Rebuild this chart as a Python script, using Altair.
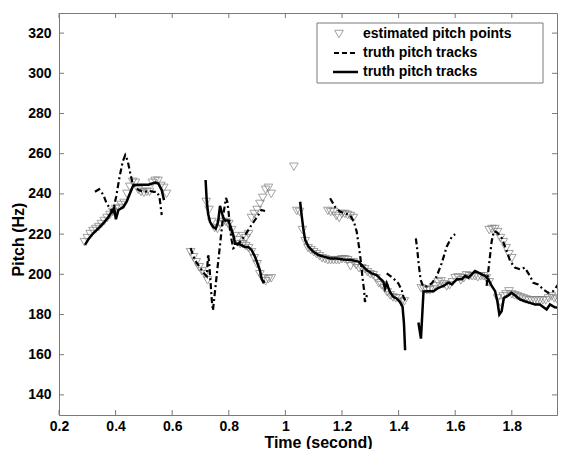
import altair as alt
import pandas as pd

FONT = "Liberation Sans"
GRAY = "#7a7a7a"

X_TICKS = [0.2, 0.4, 0.6, 0.8, 1.0, 1.2, 1.4, 1.6, 1.8]
Y_TICKS = [140, 160, 180, 200, 220, 240, 260, 280, 300, 320]
LEGEND_LABELS = ["estimated pitch points", "truth pitch tracks", "truth pitch tracks"]

# ---- solid truth tracks ----
SOLID_A_T = [0.292, 0.304, 0.321, 0.339, 0.357, 0.374, 0.386, 0.395, 0.401, 0.410, 0.427, 0.439, 0.451, 0.463, 0.487, 0.516, 0.540, 0.551, 0.563, 0.571]
SOLID_A_F = [214.6, 217.5, 220.4, 222.9, 225.4, 228.4, 231.2, 233.0, 227.4, 232.0, 233.3, 236.1, 240.3, 244.4, 244.6, 244.6, 245.7, 245.2, 241.9, 236.9]
SOLID_B_T = [0.718, 0.722, 0.727, 0.734, 0.745, 0.754, 0.762, 0.769, 0.775, 0.780, 0.786, 0.798, 0.807, 0.816, 0.822, 0.834, 0.846, 0.857, 0.869, 0.881, 0.893, 0.904, 0.910, 0.916, 0.922, 0.928]
SOLID_B_F = [246.9, 236.7, 230.0, 226.0, 223.5, 222.7, 226.0, 234.0, 231.0, 228.4, 226.8, 226.8, 223.5, 219.4, 215.2, 215.2, 214.4, 213.6, 213.6, 212.0, 208.6, 204.4, 202.0, 197.8, 196.1, 196.6]
SOLID_C_T = [1.052, 1.058, 1.064, 1.070, 1.082, 1.099, 1.117, 1.135, 1.158, 1.182, 1.205, 1.234, 1.258, 1.270, 1.287, 1.305, 1.322, 1.334, 1.346, 1.352, 1.358, 1.369, 1.381, 1.393, 1.405, 1.414, 1.419, 1.423]
SOLID_C_F = [236.1, 228.7, 222.0, 217.0, 213.7, 211.2, 209.6, 208.8, 207.9, 207.9, 207.4, 207.1, 206.3, 204.6, 202.1, 200.5, 199.6, 198.0, 196.3, 193.0, 195.5, 191.3, 188.8, 188.0, 186.3, 183.8, 175.5, 162.2]
SOLID_D_T = [1.470, 1.479, 1.488, 1.505, 1.523, 1.541, 1.558, 1.576, 1.588, 1.606, 1.623, 1.635, 1.647, 1.658, 1.670, 1.682, 1.694, 1.706, 1.717, 1.729, 1.741, 1.749, 1.756, 1.764, 1.772, 1.784, 1.799, 1.811, 1.829, 1.846, 1.864, 1.882, 1.899, 1.923, 1.935, 1.952, 1.970, 1.989]
SOLID_D_F = [176.0, 168.0, 191.5, 191.6, 191.6, 193.3, 194.2, 195.8, 195.0, 197.5, 197.5, 199.2, 198.3, 200.0, 201.6, 200.8, 200.0, 199.2, 197.5, 194.2, 191.6, 186.6, 180.0, 181.6, 188.3, 189.1, 190.8, 189.6, 187.5, 186.6, 185.8, 185.0, 185.0, 182.5, 185.0, 183.6, 183.3, 180.8]

# ---- dashed truth tracks ----
DASH_A_T = [0.327, 0.342, 0.357, 0.368, 0.380, 0.390, 0.402, 0.414, 0.425, 0.434, 0.442, 0.452, 0.460, 0.480, 0.500, 0.520, 0.535, 0.545, 0.555, 0.563]
DASH_A_F = [241.1, 242.3, 239.5, 235.3, 232.8, 231.0, 238.6, 248.5, 256.0, 259.3, 256.8, 250.2, 245.2, 242.0, 241.0, 241.5, 241.0, 241.1, 238.6, 229.5]
DASH_B_T = [0.665, 0.680, 0.700, 0.715, 0.722, 0.727, 0.731, 0.736, 0.740, 0.744, 0.750, 0.760, 0.770, 0.780, 0.790, 0.795, 0.800, 0.805, 0.810, 0.816, 0.825, 0.840, 0.860, 0.880, 0.900, 0.915, 0.928]
DASH_B_F = [213.0, 207.0, 203.0, 200.0, 199.0, 210.0, 205.0, 195.0, 187.0, 182.0, 190.0, 203.0, 216.0, 229.0, 238.0, 236.0, 230.0, 222.0, 217.0, 213.0, 214.0, 216.0, 220.0, 224.5, 228.5, 232.0, 231.5]
DASH_C_T = [1.158, 1.175, 1.193, 1.211, 1.228, 1.242, 1.252, 1.260, 1.266, 1.272, 1.278, 1.281, 1.290]
DASH_C_F = [237.8, 233.6, 231.2, 230.3, 229.5, 226.2, 221.2, 213.7, 207.1, 198.8, 192.2, 186.3, 190.5]
DASH_C2_T = [1.358, 1.381, 1.399, 1.411, 1.417, 1.425]
DASH_C2_F = [200.5, 198.0, 195.5, 192.2, 188.8, 186.5]
DASH_D_T = [1.461, 1.466, 1.472, 1.478, 1.487, 1.500, 1.517, 1.534, 1.552, 1.570, 1.588, 1.600]
DASH_D_F = [217.9, 212.1, 203.8, 197.2, 193.9, 194.0, 195.5, 198.8, 205.4, 213.7, 218.7, 220.0]
DASH_D2_T = [1.711, 1.721, 1.729, 1.737, 1.749, 1.764, 1.782, 1.794, 1.811, 1.829, 1.846, 1.864, 1.876, 1.893, 1.911, 1.929, 1.946, 1.964, 1.976, 1.988]
DASH_D2_F = [194.2, 206.6, 216.5, 221.5, 220.7, 218.2, 211.6, 206.6, 203.3, 202.5, 203.3, 199.2, 195.8, 195.0, 192.5, 190.8, 191.6, 195.0, 200.0, 208.3]

# ---- estimated pitch points ----
EST_T = [0.29, 0.30, 0.31, 0.32, 0.33, 0.34, 0.35, 0.36, 0.37, 0.38, 0.39, 0.40, 0.41, 0.42, 0.43, 0.44, 0.45, 0.46, 0.47, 0.48, 0.49, 0.50, 0.51, 0.52, 0.53, 0.54, 0.55, 0.56, 0.57, 0.58,
         0.665, 0.675, 0.685, 0.695, 0.705, 0.715, 0.725,
         0.72, 0.73, 0.74, 0.75, 0.76, 0.77, 0.78, 0.79, 0.80, 0.81, 0.82, 0.83, 0.84, 0.85, 0.86, 0.87, 0.88, 0.89, 0.90, 0.91, 0.92, 0.93, 0.94, 0.95,
         0.85, 0.86, 0.87, 0.88, 0.89, 0.90, 0.91, 0.92, 0.93, 0.94, 0.95,
         1.03,
         1.04, 1.05, 1.06, 1.07, 1.08, 1.09, 1.10, 1.11, 1.12, 1.13, 1.14, 1.15, 1.16, 1.17, 1.18, 1.19, 1.20, 1.21, 1.22, 1.23, 1.24, 1.25, 1.26, 1.27, 1.28, 1.29, 1.30, 1.31, 1.32, 1.33, 1.34, 1.35, 1.36, 1.37, 1.38, 1.39, 1.40, 1.41, 1.42,
         1.15, 1.16, 1.17, 1.18, 1.19, 1.20, 1.21, 1.22, 1.23, 1.24,
         1.48, 1.49, 1.50, 1.51, 1.52, 1.53, 1.54, 1.55, 1.56, 1.57, 1.58, 1.59, 1.60, 1.61, 1.62, 1.63, 1.64, 1.65, 1.66, 1.67, 1.68, 1.69, 1.70, 1.71, 1.72,
         1.75, 1.76, 1.77, 1.78, 1.79, 1.80, 1.81, 1.82, 1.83, 1.84, 1.85, 1.86, 1.87, 1.88, 1.89, 1.90, 1.91, 1.92, 1.93, 1.94, 1.95, 1.96, 1.97, 1.98,
         1.72, 1.73, 1.74, 1.75, 1.76, 1.77, 1.78, 1.79, 1.80]
EST_F = [216, 218, 220, 221.5, 222.5, 223.5, 225, 226.5, 228, 229.5, 231, 232.5, 233, 234.5, 235.5, 240, 243.5, 246, 245.5, 242, 241, 240.5, 241, 241, 245.5, 246.5, 246.5, 244, 243, 240,
         211, 208.5, 206, 203.5, 201.5, 200, 197,
         236, 232, 226, 223, 222.5, 225, 226, 226, 225, 222, 219, 217, 215, 215, 214, 213, 211, 208, 205, 200, 198, 196.5, 197.5, 198,
         219, 218, 220, 228, 230, 232, 235, 238, 242, 243, 240,
         253.5,
         231.5, 231, 222, 216.5, 213, 212, 211, 210, 209, 208, 207.5, 207, 207, 207, 207, 207, 207.5, 207.5, 207, 204, 206, 204.5, 203, 203, 202.5, 201, 200, 199.5, 198, 195.5, 194.5, 193, 191, 189.5, 188.5, 188, 188, 186, 186.5,
         231.5, 231, 231, 229, 228, 230, 230, 229.5, 229, 228,
         193, 192.5, 192, 192, 192.5, 194, 196, 196.5, 195, 194, 194.5, 196, 198, 198.5, 197, 198, 199.5, 199, 199, 199, 198.5, 199, 199, 198, 196,
         188, 186, 189, 190, 191.5, 190, 189.5, 189, 188.5, 188, 187.5, 187, 187, 187, 187, 187, 187, 187, 188, 189, 188, 187.5, 187, 186.5,
         222, 222.5, 222.5, 221, 218, 216, 213, 210, 208]


def frame(segments):
    rows = []
    for s, (ts, fs) in enumerate(segments):
        for i, (t, f) in enumerate(zip(ts, fs)):
            rows.append({"t": t, "f": f, "seg": s, "i": i})
    return pd.DataFrame(rows)


solid_df = frame([(SOLID_A_T, SOLID_A_F), (SOLID_B_T, SOLID_B_F), (SOLID_C_T, SOLID_C_F), (SOLID_D_T, SOLID_D_F)])
dash_df = frame([(DASH_A_T, DASH_A_F), (DASH_B_T, DASH_B_F), (DASH_C_T, DASH_C_F), (DASH_C2_T, DASH_C2_F),
                 (DASH_D_T, DASH_D_F), (DASH_D2_T, DASH_D2_F)])
est_df = pd.DataFrame({"t": EST_T, "f": EST_F})

W, H = 498, 402
xs = alt.Scale(domain=[0.2, 0.2 + W / 283.0], nice=False, zero=False)
ys = alt.Scale(domain=[130, 330], nice=False, zero=False)

x_axis = alt.Axis(values=X_TICKS, format="~g", ticks=False, grid=False, domainColor=GRAY,
                  labelFont=FONT, labelFontSize=14, labelFontWeight="bold", labelColor="black",
                  labelPadding=4, labelFlush=False,
                  title="Time (second)", titleFont=FONT, titleFontSize=16, titleFontWeight="bold",
                  titleColor="black", titleX=W / 2 + 10, titleY=19, titleBaseline="top")
y_axis = alt.Axis(values=Y_TICKS, ticks=False, grid=False, domainColor=GRAY,
                  labelFont=FONT, labelFontSize=14, labelFontWeight="bold", labelColor="black",
                  labelPadding=8, labelFlush=False,
                  title="Pitch (Hz)", titleFont=FONT, titleFontSize=16, titleFontWeight="bold",
                  titleColor="black", titleX=-33, titleY=226)

X_ENC = alt.X("t:Q", scale=xs, axis=x_axis)
Y_ENC = alt.Y("f:Q", scale=ys, axis=y_axis)

est = alt.Chart(est_df).mark_point(shape="triangle-down", size=75, color=GRAY, filled=False,
                                   strokeWidth=1, clip=True).encode(x=X_ENC, y=Y_ENC)
dashed = alt.Chart(dash_df).mark_line(color="black", strokeWidth=2.2, strokeDash=[6, 3, 2, 3], clip=True).encode(
    x=X_ENC, y=Y_ENC, detail="seg:N", order="i:Q")
solid = alt.Chart(solid_df).mark_line(color="black", strokeWidth=2.5, clip=True).encode(
    x=X_ENC, y=Y_ENC, detail="seg:N", order="i:Q")

xt = pd.DataFrame({"t": X_TICKS})
yt = pd.DataFrame({"f": Y_TICKS})
tick_layers = [
    alt.Chart(xt).mark_rule(color=GRAY, strokeWidth=1).encode(
        x=X_ENC, y=alt.value(H), y2=alt.value(H - 5)),
    alt.Chart(xt).mark_rule(color=GRAY, strokeWidth=1).encode(
        x=X_ENC, y=alt.value(0), y2=alt.value(5)),
    alt.Chart(yt).mark_rule(color=GRAY, strokeWidth=1).encode(
        y=Y_ENC, x=alt.value(0), x2=alt.value(5)),
    alt.Chart(yt).mark_rule(color=GRAY, strokeWidth=1).encode(
        y=Y_ENC, x=alt.value(W), x2=alt.value(W - 5)),
]

one = pd.DataFrame({"k": [0]})
legend_layers = [
    alt.Chart(one).mark_rect(fill="white", stroke=GRAY, strokeWidth=1).encode(
        x=alt.value(258), x2=alt.value(484), y=alt.value(10), y2=alt.value(70)),
    alt.Chart(one).mark_point(shape="triangle-down", size=75, color=GRAY, filled=False, strokeWidth=1).encode(
        x=alt.value(280), y=alt.value(21)),
    alt.Chart(one).mark_rule(color="black", strokeWidth=2, strokeDash=[5, 3]).encode(
        x=alt.value(275), x2=alt.value(299), y=alt.value(40)),
    alt.Chart(one).mark_rule(color="black", strokeWidth=2.5).encode(
        x=alt.value(274), x2=alt.value(299), y=alt.value(59)),
]
for lbl, yy in zip(LEGEND_LABELS, [21, 40, 59]):
    legend_layers.append(
        alt.Chart(one).mark_text(font=FONT, fontSize=14, fontWeight="bold", color="black",
                                 align="left", baseline="middle").encode(
            x=alt.value(304), y=alt.value(yy), text=alt.value(lbl)))

chart = alt.layer(est, dashed, solid, *tick_layers, *legend_layers).properties(
    width=W, height=H,
    autosize=alt.AutoSizeParams(type="none"),
    padding={"left": 51, "top": 5, "right": 1, "bottom": 34},
    background="white",
).configure_view(stroke=GRAY, strokeWidth=1)

chart.save("out.html", embed_options={"renderer": "svg", "actions": False})
